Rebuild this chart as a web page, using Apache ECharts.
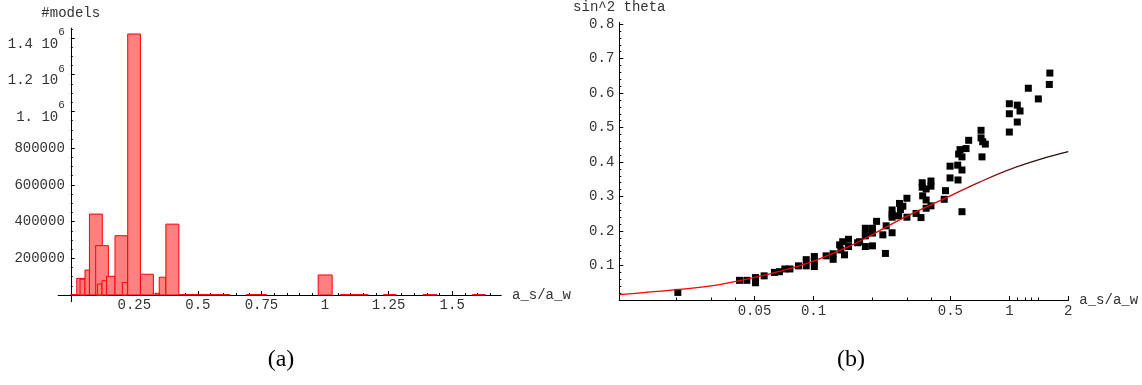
<!DOCTYPE html>
<html><head><meta charset="utf-8">
<script src="https://cdn.jsdelivr.net/npm/echarts@6/dist/echarts.min.js"></script>
<style>html,body{margin:0;padding:0;background:#fff}#c{width:1142px;height:385px}</style>
</head><body><div id="c"></div>
<script>
// ---------- (a) histogram: bins [start, end) and counts ----------
const binStart = [0.000, 0.0236, 0.0366, 0.056, 0.0735, 0.098, 0.105, 0.123, 0.141, 0.174, 0.203, 0.224, 0.274, 0.331, 0.348, 0.374, 0.425, 0.475, 0.525, 0.575, 0.69, 0.973, 1.06, 1.23, 1.385, 1.58];
const binEnd   = [0.024, 0.0562, 0.056, 0.0735, 0.124, 0.148, 0.123, 0.141, 0.174, 0.224, 0.224, 0.274, 0.325, 0.348, 0.374, 0.425, 0.475, 0.525, 0.575, 0.625, 0.77, 1.028, 1.17, 1.28, 1.44, 1.63];
const binCount = [3000, 91000, 86000, 136000, 441000, 269000, 60000, 78000, 102000, 323000, 68000, 1422000, 113000, 9300, 97000, 386000, 2500, 3000, 2000, 2500, 2500, 109000, 2000, 2000, 2000, 2000];
const histXLabels = [0.25, 0.5, 0.75, 1, 1.25, 1.5];
const histXMinor = [0.05,0.1,0.15,0.2,0.3,0.35,0.4,0.45,0.55,0.6,0.65,0.7,0.8,0.85,0.9,0.95,1.05,1.1,1.15,1.2,1.3,1.35,1.4,1.45,1.55,1.6,1.65];
const histYLabels = [200000, 400000, 600000, 800000, 1000000, 1200000, 1400000];
const histYMinor = [50000,100000,150000,250000,300000,350000,450000,500000,550000,650000,700000,750000,850000,900000,950000,1050000,1100000,1150000,1250000,1300000,1350000,1450000];

// ---------- (b) scatter sin^2 theta vs a_s/a_w ----------
const sx = [0.0203,0.0419,0.0457,0.0506,0.0506,0.056,0.0632,0.067,0.0714,0.0758,0.0838,0.0918,0.0918,0.101,0.101,0.101,0.116,0.126,0.126,0.136,0.138,0.141,0.144,0.151,0.151,0.168,0.172,0.184,0.184,0.184,0.184,0.2,0.2,0.2,0.21,0.226,0.233,0.235,0.252,0.252,0.252,0.252,0.272,0.275,0.278,0.286,0.30,0.30,0.334,0.354,0.359,0.359,0.376,0.398,0.398,0.361,0.376,0.376,0.398,0.472,0.465,0.498,0.498,0.545,0.547,0.551,0.56,0.573,0.573,0.573,0.601,0.62,0.717,0.717,0.731,0.754,0.725,1.0,1.098,1.134,1.0,1.098,1.0,1.25,1.406,1.60,1.61];
const sy = [0.022,0.057,0.057,0.065,0.050,0.070,0.080,0.082,0.090,0.090,0.099,0.117,0.099,0.126,0.112,0.097,0.128,0.134,0.118,0.160,0.145,0.169,0.131,0.176,0.155,0.166,0.169,0.208,0.194,0.186,0.155,0.208,0.194,0.157,0.228,0.189,0.135,0.215,0.195,0.261,0.247,0.240,0.244,0.280,0.262,0.272,0.295,0.240,0.251,0.239,0.340,0.327,0.322,0.345,0.330,0.302,0.290,0.266,0.273,0.317,0.292,0.388,0.354,0.391,0.348,0.423,0.436,0.415,0.377,0.256,0.439,0.463,0.492,0.470,0.459,0.452,0.415,0.569,0.565,0.548,0.540,0.516,0.487,0.614,0.583,0.625,0.658];
const curveX = [0.0102,0.02,0.03,0.05,0.07,0.1,0.15,0.2,0.3,0.5,0.7,1.0,1.5,2.0];
const curveY = [0.0153,0.0298,0.041,0.0655,0.086,0.113,0.154,0.190,0.243,0.302,0.341,0.378,0.411,0.430];
const scatXLabels = [0.05, 0.1, 0.5, 1, 2];
const scatXMinor = [0.02, 0.03, 0.04, 0.2, 0.3, 0.4, 1.1, 1.2, 1.3, 1.4];
const scatYLabels = [0.1, 0.2, 0.3, 0.4, 0.5, 0.6, 0.7, 0.8];
const scatYMinor = [0.02,0.04,0.06,0.08,0.12,0.14,0.16,0.18,0.22,0.24,0.26,0.28,0.32,0.34,0.36,0.38,0.42,0.44,0.46,0.48,0.52,0.54,0.56,0.58,0.62,0.64,0.66,0.68,0.72,0.74,0.76,0.78];

const MONO = '"Liberation Mono", "DejaVu Sans Mono", monospace';
const TXT = '#333';
const lineS = { show: true, onZero: true, lineStyle: { color: '#000', width: 1 } };
const nameStyle = { fontFamily: MONO, fontSize: 14, color: TXT };

function majorAxis(extra) {
  return Object.assign({
    type: 'value', axisLine: lineS, splitLine: { show: false },
    nameTextStyle: nameStyle
  }, extra);
}

const histData = binStart.map((s, i) => [s, binEnd[i], binCount[i]]);
const scatData = sx.map((x, i) => [x, sy[i]]);
const curveData = curveX.map((x, i) => [x, curveY[i]]);

function mant(v) { const m = v / 1e6; return m === 1 ? '1.' : String(m); }

const option = {
  animation: false,
  backgroundColor: '#fff',
  grid: [
    { left: 58.3, top: 28.3, width: 442.7, height: 273.4, containLabel: false, outerBoundsMode: 'none' },
    { left: 619.3, top: 22.7, width: 449, height: 277.3, containLabel: false, outerBoundsMode: 'none' }
  ],
  xAxis: [
    majorAxis({ gridIndex: 0, min: -0.049, max: 1.692, position: 'bottom',
      name: 'a_s/a_w', nameLocation: 'end', nameGap: 11,
      axisTick: { show: true, inside: true, length: 4, customValues: histXLabels, lineStyle: { color: '#000' } },
      axisLabel: { show: true, customValues: histXLabels, margin: -3.5, fontFamily: MONO, fontSize: 14, color: TXT, formatter: v => String(v) } }),
    majorAxis({ gridIndex: 0, min: -0.049, max: 1.692, position: 'bottom',
      axisTick: { show: true, inside: true, length: 2, customValues: histXMinor, lineStyle: { color: '#000' } },
      axisLabel: { show: false } }),
    majorAxis({ type: 'log', logBase: 10, gridIndex: 1, min: 0.0102, max: 2, position: 'bottom',
      name: 'a_s/a_w', nameLocation: 'end', nameGap: 11,
      axisTick: { show: true, inside: true, length: 4, customValues: scatXLabels, lineStyle: { color: '#000' } },
      axisLabel: { show: true, customValues: scatXLabels, margin: 4, fontFamily: MONO, fontSize: 14, color: TXT, formatter: v => String(+(+v).toPrecision(6)) } }),
    majorAxis({ type: 'log', logBase: 10, gridIndex: 1, min: 0.0102, max: 2, position: 'bottom',
      axisTick: { show: true, inside: true, length: 2.5, customValues: scatXMinor, lineStyle: { color: '#000' } },
      axisLabel: { show: false } })
  ],
  yAxis: [
    majorAxis({ gridIndex: 0, min: -36500, max: 1453000, position: 'left',
      name: '#models', nameLocation: 'end', nameGap: 8,
      axisTick: { show: true, inside: true, length: 4, customValues: histYLabels, lineStyle: { color: '#000' } },
      axisLabel: { show: true, customValues: histYLabels, margin: -6.5,
        formatter: v => v >= 1e6 ? '{m|' + mant(v) + ' 10}{s|6}' : '{n|' + v + '}',
        rich: {
          n: { fontFamily: MONO, fontSize: 14, color: TXT },
          m: { fontFamily: MONO, fontSize: 14, color: TXT, lineHeight: 14, padding: [12, 0, 0, 0] },
          s: { fontFamily: MONO, fontSize: 11, color: TXT, lineHeight: 11, padding: [0, 0, 12, 0] }
        } } }),
    majorAxis({ gridIndex: 0, min: -36500, max: 1453000, position: 'left',
      axisTick: { show: true, inside: true, length: 2, customValues: histYMinor, lineStyle: { color: '#000' } },
      axisLabel: { show: false } }),
    majorAxis({ gridIndex: 1, min: 0, max: 0.804, position: 'left',
      name: 'sin^2 theta', nameLocation: 'end', nameGap: 8,
      axisTick: { show: true, inside: true, length: 4, customValues: scatYLabels, lineStyle: { color: '#000' } },
      axisLabel: { show: true, customValues: scatYLabels, margin: 5, fontFamily: MONO, fontSize: 14, color: TXT, formatter: v => (+v).toFixed(1) } }),
    majorAxis({ gridIndex: 1, min: 0, max: 0.804, position: 'left',
      axisTick: { show: true, inside: true, length: 2, customValues: scatYMinor, lineStyle: { color: '#000' } },
      axisLabel: { show: false } })
  ],
  series: [
    {
      type: 'custom', xAxisIndex: 0, yAxisIndex: 0, clip: true,
      encode: { x: [0, 1], y: 2 },
      data: histData,
      renderItem: (params, api) => {
        const p0 = api.coord([api.value(0), api.value(2)]);
        const p1 = api.coord([api.value(1), 0]);
        return { type: 'rect',
          shape: { x: p0[0], y: p0[1], width: p1[0] - p0[0], height: p1[1] - p0[1] },
          style: { fill: '#ff8080', stroke: '#ff0000', lineWidth: 1 } };
      }
    },
    {
      type: 'scatter', xAxisIndex: 2, yAxisIndex: 2, symbol: 'rect', symbolSize: 7,
      itemStyle: { color: '#000', opacity: 1 }, data: scatData, z: 2
    },
    {
      type: 'line', xAxisIndex: 2, yAxisIndex: 2, smooth: 0.4, showSymbol: false, z: 3,
      data: curveData,
      lineStyle: { width: 1.3, color: new echarts.graphic.LinearGradient(0, 0, 1, 0, [
        { offset: 0, color: '#ff0000' }, { offset: 0.72, color: '#f00000' },
        { offset: 0.82, color: '#8b1010' }, { offset: 0.92, color: '#301010' }, { offset: 1, color: '#201010' }]) }
    }
  ],
  graphic: [
    { type: 'text', x: 281, y: 360, style: { text: '(a)', align: 'center', verticalAlign: 'middle', font: '24px "Liberation Serif", serif', fill: '#000' } },
    { type: 'text', x: 851, y: 360, style: { text: '(b)', align: 'center', verticalAlign: 'middle', font: '24px "Liberation Serif", serif', fill: '#000' } }
  ]
};
const chart = echarts.init(document.getElementById('c'), null, { renderer: 'canvas' });
chart.setOption(option);
</script>
</body></html>
